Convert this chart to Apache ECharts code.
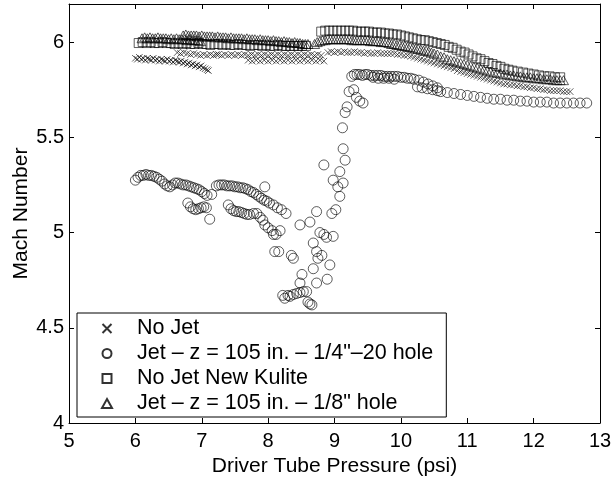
<!DOCTYPE html>
<html>
<head>
<meta charset="utf-8">
<script src="https://cdn.jsdelivr.net/npm/echarts@6/dist/echarts.min.js"></script>
<style>
html,body{margin:0;padding:0;background:#fff;}
#chart{width:611px;height:477px;}
</style>
</head>
<body>
<div id="chart"></div>
<script>
// ---- data (x = driver tube pressure, psi ; y = Mach number) ----
const seriesNames = ['No Jet', 'Jet \u2013 z = 105 in. \u2013 1/4"\u201320 hole', 'No Jet New Kulite', 'Jet \u2013 z = 105 in. \u2013 1/8" hole'];
const xTicks = [5, 6, 7, 8, 9, 10, 11, 12, 13];
const yTicks = [4, 4.5, 5, 5.5, 6];

const noJet = [
  [6.00,5.915],[6.03,5.91],[6.06,5.92],[6.09,5.91],[6.12,5.915],[6.15,5.905],[6.18,5.915],[6.21,5.91],[6.24,5.905],[6.27,5.915],
  [6.30,5.905],[6.33,5.91],[6.36,5.90],[6.39,5.91],[6.42,5.905],[6.45,5.90],[6.48,5.91],[6.51,5.90],[6.54,5.905],[6.57,5.895],
  [6.60,5.905],[6.63,5.90],[6.66,5.895],[6.69,5.90],[6.72,5.89],[6.75,5.895],[6.78,5.885],[6.81,5.89],[6.84,5.88],[6.87,5.885],
  [6.90,5.875],[6.93,5.88],[6.96,5.87],[6.99,5.875],[7.02,5.865],[7.05,5.86],[7.08,5.855],[7.10,5.85],
  [6.63,5.945],[6.68,5.94],[6.73,5.945],[6.78,5.94],[6.83,5.935],[6.88,5.94],[6.93,5.935],[6.98,5.93],[7.03,5.935],[7.08,5.93],
  [7.13,5.935],[7.18,5.93],[7.22,5.935],
  [7.25,5.935],[7.30,5.93],[7.35,5.935],[7.40,5.93],[7.45,5.935],[7.50,5.93],[7.55,5.935],[7.60,5.93],[7.65,5.935],[7.70,5.93],
  [7.75,5.935],[7.80,5.93],[7.85,5.935],[7.90,5.93],[7.95,5.935],[8.00,5.93],[8.05,5.935],[8.10,5.93],[8.15,5.935],[8.20,5.93],
  [8.25,5.935],[8.30,5.93],[8.35,5.935],[8.40,5.93],[8.45,5.935],[8.50,5.93],[8.55,5.935],[8.60,5.93],[8.65,5.935],[8.70,5.93],[8.75,5.935],[8.80,5.93],
  [7.70,5.905],[7.76,5.90],[7.82,5.905],[7.88,5.90],[7.94,5.905],[8.00,5.90],[8.06,5.905],[8.12,5.90],[8.18,5.905],[8.24,5.90],
  [8.30,5.905],[8.36,5.90],[8.42,5.905],[8.48,5.90],[8.54,5.905],[8.60,5.90],[8.66,5.905],[8.72,5.90],[8.78,5.905],[8.84,5.90],
  [8.90,5.945],[8.95,5.95],[9.00,5.945],[9.05,5.95],[9.10,5.945],[9.15,5.95],[9.20,5.945],[9.25,5.945],[9.30,5.95],[9.35,5.945],
  [9.40,5.945],[9.45,5.94],[9.50,5.945],[9.55,5.94],[9.60,5.94],[9.65,5.945],[9.70,5.94],[9.75,5.94],[9.80,5.94],[9.85,5.94],
  [9.90,5.94],[9.95,5.935],[10.00,5.935],[10.05,5.93],[10.10,5.93],[10.15,5.925],[10.20,5.92],[10.25,5.915],[10.30,5.91],[10.35,5.905],
  [10.40,5.90],[10.45,5.895],[10.50,5.89],[10.55,5.885],[10.60,5.88],[10.65,5.875],[10.70,5.87],[10.75,5.865],[10.80,5.86],[10.85,5.85],
  [10.90,5.845],[10.95,5.84],[11.00,5.835],[11.05,5.83],[11.10,5.825],[11.15,5.82],[11.20,5.815],[11.25,5.81],[11.30,5.805],[11.35,5.80],
  [11.40,5.795],[11.45,5.79],[11.50,5.785],[11.55,5.78],[11.60,5.78],[11.65,5.775],[11.70,5.775],[11.75,5.77],[11.80,5.77],[11.85,5.765],
  [11.90,5.765],[11.95,5.76],[12.00,5.76],[12.05,5.755],[12.10,5.755],[12.15,5.75],[12.20,5.75],[12.25,5.745],[12.30,5.745],[12.35,5.745],
  [12.40,5.745],[12.45,5.74],[12.50,5.74],[12.55,5.74]
];

const jetQuarter = [
  [6.00,5.275],[6.04,5.29],[6.08,5.30],[6.12,5.30],[6.16,5.305],[6.20,5.30],[6.24,5.30],[6.28,5.295],[6.32,5.29],[6.36,5.28],
  [6.40,5.27],[6.44,5.255],[6.48,5.245],[6.52,5.24],[6.56,5.25],[6.60,5.26],[6.64,5.26],[6.68,5.255],[6.72,5.25],[6.76,5.25],
  [6.80,5.245],[6.84,5.24],[6.88,5.235],[6.92,5.23],[6.96,5.225],[7.00,5.215],[7.04,5.205],[7.08,5.195],[7.15,5.20],
  [7.22,5.245],[7.26,5.25],[7.30,5.25],[7.34,5.25],[7.38,5.245],[7.42,5.245],[7.46,5.245],[7.50,5.24],[7.54,5.24],[7.58,5.235],
  [7.62,5.235],[7.66,5.23],[7.70,5.225],[7.74,5.215],[7.78,5.21],[7.82,5.20],[7.86,5.19],[7.90,5.18],[7.94,5.17],[7.98,5.165],
  [8.02,5.155],[8.08,5.145],[8.14,5.13],[8.20,5.12],[8.27,5.10],[7.95,5.24],
  [6.79,5.155],[6.83,5.135],[6.87,5.125],[6.91,5.12],[6.95,5.125],[6.99,5.13],[7.03,5.135],[7.07,5.13],[7.12,5.07],
  [7.40,5.145],[7.44,5.125],[7.48,5.115],[7.52,5.11],[7.56,5.11],[7.60,5.105],[7.64,5.10],[7.68,5.095],[7.72,5.095],[7.78,5.10],
  [7.83,5.10],[7.88,5.08],[7.92,5.065],[7.95,5.04],[8.00,5.025],[8.06,5.01],[8.08,4.99],[8.12,4.99],[8.18,5.01],
  [8.10,4.90],[8.16,4.90],[8.35,4.88],[8.38,4.865],
  [8.48,5.04],[8.63,5.055],[8.73,5.11],[8.96,5.10],[8.68,4.945],[8.78,5.00],[8.84,4.99],[8.88,4.975],[8.98,4.98],[8.73,4.90],
  [8.81,4.88],[8.75,4.865],[8.93,4.83],[8.68,4.81],[8.51,4.78],[8.48,4.735],[8.89,4.755],[8.73,4.735],
  [8.22,4.67],[8.25,4.655],[8.30,4.67],[8.33,4.665],[8.38,4.675],[8.43,4.68],[8.48,4.685],[8.53,4.69],[8.58,4.69],[8.60,4.635],
  [8.63,4.625],[8.66,4.62],
  [8.98,5.275],[9.05,5.24],[9.02,5.12],[9.08,5.19],[9.13,5.26],[9.08,5.32],[8.84,5.355],[9.13,5.44],[9.16,5.38],[9.12,5.55],
  [9.16,5.63],[9.19,5.66],[9.22,5.74],[9.26,5.82],[9.29,5.75],[9.33,5.71],[9.38,5.69],[9.43,5.68],
  [9.30,5.83],[9.34,5.83],[9.38,5.83],[9.42,5.825],[9.46,5.83],[9.50,5.83],[9.55,5.825],[9.60,5.825],[9.65,5.825],[9.70,5.825],
  [9.75,5.82],[9.80,5.82],[9.85,5.82],[9.90,5.82],[9.95,5.82],[10.00,5.815],[10.05,5.815],[10.10,5.81],[10.15,5.81],[10.20,5.805],
  [10.27,5.80],[10.34,5.79],[10.41,5.78],[10.48,5.77],[10.55,5.76],
  [9.58,5.815],[9.66,5.81],[9.74,5.81],[9.82,5.81],[9.90,5.805],
  [10.25,5.765],[10.32,5.76],[10.40,5.755],[10.48,5.75],[10.55,5.745],
  [10.60,5.74],[10.70,5.735],[10.80,5.73],[10.90,5.725],[11.00,5.72],[11.10,5.715],[11.20,5.71],[11.30,5.705],[11.40,5.70],[11.50,5.70],
  [11.60,5.695],[11.70,5.695],[11.80,5.69],[11.90,5.69],[12.00,5.685],[12.10,5.685],[12.20,5.685],[12.30,5.68],[12.40,5.68],[12.50,5.68],
  [12.60,5.68],[12.70,5.68],[12.80,5.68]
];

const noJetKulite = [
  [6.05,5.995],[6.11,6.00],[6.17,5.995],[6.23,6.00],[6.29,5.995],[6.35,5.995],[6.41,6.00],[6.47,5.995],[6.53,5.995],[6.59,5.99],
  [6.65,5.995],[6.71,5.99],[6.77,5.995],[6.83,5.99],[6.89,5.99],[6.95,5.995],[7.01,5.99],[7.07,5.99],[7.13,5.985],[7.19,5.99],
  [7.25,5.99],[7.31,5.985],[7.37,5.99],[7.43,5.985],[7.49,5.985],[7.55,5.99],[7.61,5.985],[7.67,5.985],[7.73,5.98],[7.79,5.985],
  [7.85,5.985],[7.91,5.98],[7.97,5.985],[8.03,5.98],[8.09,5.98],[8.15,5.985],[8.21,5.98],[8.27,5.98],[8.33,5.98],[8.39,5.98],
  [8.45,5.98],[8.51,5.98],[8.57,5.98],
  [8.80,6.055],[8.86,6.06],[8.92,6.06],[8.98,6.06],[9.04,6.06],[9.10,6.06],[9.16,6.06],[9.22,6.06],[9.28,6.06],[9.34,6.055],
  [9.40,6.055],[9.46,6.055],[9.52,6.055],[9.58,6.05],[9.64,6.05],[9.70,6.05],[9.76,6.045],[9.82,6.045],[9.88,6.04],[9.94,6.04],
  [10.00,6.035],[10.06,6.03],[10.12,6.025],[10.18,6.02],[10.24,6.015],[10.30,6.01],[10.36,6.01],[10.42,6.005],[10.48,6.00],[10.54,5.995],
  [10.60,5.99],[10.66,5.985],[10.72,5.975],[10.78,5.97],[10.84,5.96],[10.90,5.95],[10.96,5.945],[11.02,5.935],[11.08,5.925],[11.14,5.915],
  [11.20,5.91],[11.26,5.90],[11.32,5.89],[11.38,5.885],[11.44,5.875],[11.50,5.87],[11.56,5.86],[11.62,5.855],[11.68,5.85],[11.76,5.845],
  [11.84,5.84],[11.92,5.835],[12.00,5.83],[12.08,5.825],[12.16,5.82],[12.24,5.82],[12.32,5.815],[12.40,5.815]
];

const jetEighth = [
  [6.10,6.02],[6.14,6.025],[6.18,6.02],[6.22,6.025],[6.26,6.02],[6.30,6.02],[6.34,6.025],[6.38,6.02],[6.42,6.02],[6.46,6.02],
  [6.50,6.015],[6.54,6.02],[6.58,6.015],[6.62,6.02],[6.66,6.015],[6.70,6.015],[6.74,6.015],[6.78,6.01],[6.82,6.015],[6.86,6.01],
  [6.90,6.01],[6.94,6.01],[6.98,6.005],
  [6.72,6.035],[6.76,6.04],[6.80,6.035],[6.84,6.035],[6.88,6.035],[6.92,6.035],[6.96,6.03],[7.00,6.035],[7.04,6.03],[7.08,6.03],
  [7.12,6.03],[7.16,6.03],[7.20,6.025],[7.24,6.03],[7.28,6.025],[7.32,6.025],[7.36,6.025],[7.40,6.02],[7.44,6.025],[7.48,6.02],
  [7.52,6.02],[7.56,6.02],[7.60,6.02],[7.64,6.015],[7.68,6.02],[7.72,6.015],[7.76,6.015],[7.80,6.015],[7.84,6.01],[7.88,6.015],
  [7.92,6.01],[7.96,6.01],[8.00,6.01],[8.04,6.005],[8.08,6.01],[8.12,6.005],[8.16,6.005],[8.20,6.00],[8.24,6.005],[8.28,6.00],
  [8.32,6.00],[8.36,5.995],[8.40,6.00],[8.44,5.995],[8.48,5.995],[8.52,5.99],[8.56,5.99],[8.60,5.99],
  [8.70,5.99],[8.74,6.00],[8.78,6.005],[8.82,6.01],[8.86,6.01],[8.90,6.015],[8.94,6.015],[8.98,6.015],[9.02,6.015],[9.06,6.015],
  [9.10,6.015],[9.14,6.015],[9.18,6.015],[9.22,6.015],[9.26,6.01],[9.30,6.01],[9.34,6.01],[9.38,6.01],[9.42,6.01],[9.46,6.01],
  [9.50,6.01],[9.54,6.005],[9.58,6.005],[9.62,6.005],[9.66,6.005],[9.70,6.00],[9.74,6.00],[9.78,6.00],[9.82,5.995],[9.86,5.99],
  [9.90,5.99],[9.94,5.985],[9.98,5.985],[10.02,5.98],[10.06,5.98],[10.10,5.975],[10.14,5.975],[10.18,5.97],[10.22,5.965],[10.26,5.965],
  [10.30,5.96],[10.34,5.955],[10.38,5.955],[10.42,5.95],[10.46,5.945],[10.50,5.94],[10.55,5.935],[10.60,5.925],[10.65,5.92],[10.70,5.91],
  [10.75,5.905],[10.80,5.90],[10.85,5.895],[10.90,5.89],[10.95,5.885],[11.00,5.88],[11.05,5.875],[11.10,5.87],[11.15,5.865],[11.20,5.86],
  [11.25,5.855],[11.30,5.85],[11.35,5.845],[11.40,5.84],[11.45,5.84],[11.50,5.835],[11.55,5.83],[11.60,5.83],[11.65,5.825],[11.70,5.825],
  [11.75,5.82],[11.80,5.82],[11.85,5.815],[11.90,5.815],[11.95,5.815],[12.00,5.81],[12.05,5.81],[12.10,5.81],[12.15,5.805],[12.20,5.805],
  [12.25,5.805],[12.30,5.80],[12.35,5.80],[12.40,5.80],[12.45,5.80]
];

// ---- chart ----
const FONT = 'Liberation Sans, Arial, Helvetica, sans-serif';
const chart = echarts.init(document.getElementById('chart'), null, {renderer: 'canvas'});
const markerStyle = {color: 'rgba(0,0,0,0)', borderColor: '#000', borderWidth: 0.8};
const SYM_X = 'path://M0,0L10,10M10,0L0,10';
const SYM_SQ = 'path://M0,0L10,0L10,10L0,10Z';
const SYM_TRI = 'path://M5,0L10,9L0,9Z';
const axisCommon = {
  axisLine: {show: true, onZero: false, lineStyle: {color: '#000', width: 1}},
  axisTick: {show: true, inside: true, length: 5, lineStyle: {color: '#000', width: 1}},
  splitLine: {show: false}
};
const option = {
  animation: false,
  backgroundColor: '#fff',
  grid: {left: 69, right: 11, top: 4, bottom: 54, containLabel: false, outerBoundsMode: 'none'},
  legend: {
    data: seriesNames,
    orient: 'vertical',
    left: 77, top: 313,
    itemWidth: 50, itemHeight: 9, itemGap: 0,
    padding: [3, 13, 1, 24],
    borderColor: '#000', borderWidth: 1, backgroundColor: '#fff',
    textStyle: {fontFamily: FONT, fontSize: 21.5, color: '#000', lineHeight: 25},
    selectedMode: false
  },
  xAxis: [
    Object.assign({
      type: 'value', position: 'bottom', min: xTicks[0], max: xTicks[xTicks.length - 1], interval: 1,
      name: 'Driver Tube Pressure (psi)', nameLocation: 'middle', nameGap: 32,
      nameTextStyle: {fontFamily: FONT, fontSize: 21, color: '#000'},
      axisLabel: {fontFamily: FONT, fontSize: 20, color: '#000', margin: 8}
    }, axisCommon),
    Object.assign({
      type: 'value', position: 'top', min: xTicks[0], max: xTicks[xTicks.length - 1], interval: 1,
      axisLabel: {show: false}
    }, axisCommon)
  ],
  yAxis: [
    Object.assign({
      type: 'value', position: 'left', min: yTicks[0], max: 6.2, interval: 0.5,
      name: 'Mach Number', nameLocation: 'middle', nameGap: 37, nameMoveOverlap: false,
      nameTextStyle: {fontFamily: FONT, fontSize: 21, color: '#000'},
      axisLabel: {fontFamily: FONT, fontSize: 20, color: '#000', margin: 5, showMaxLabel: false, padding: [2, 0, 0, 0]}
    }, axisCommon),
    Object.assign({
      type: 'value', position: 'right', min: yTicks[0], max: 6.2, interval: 0.5,
      axisLabel: {show: false}
    }, axisCommon)
  ],
  series: [
    {name: seriesNames[0], type: 'scatter', data: noJet, symbol: SYM_X, symbolSize: 6.5, itemStyle: markerStyle, silent: true},
    {name: seriesNames[1], type: 'scatter', data: jetQuarter, symbol: 'circle', symbolSize: 10, itemStyle: markerStyle, silent: true},
    {name: seriesNames[2], type: 'scatter', data: noJetKulite, symbol: SYM_SQ, symbolSize: 9, itemStyle: markerStyle, silent: true},
    {name: seriesNames[3], type: 'scatter', data: jetEighth, symbol: SYM_TRI, symbolSize: [10, 9], itemStyle: markerStyle, silent: true}
  ]
};
chart.setOption(option);
</script>
</body>
</html>
